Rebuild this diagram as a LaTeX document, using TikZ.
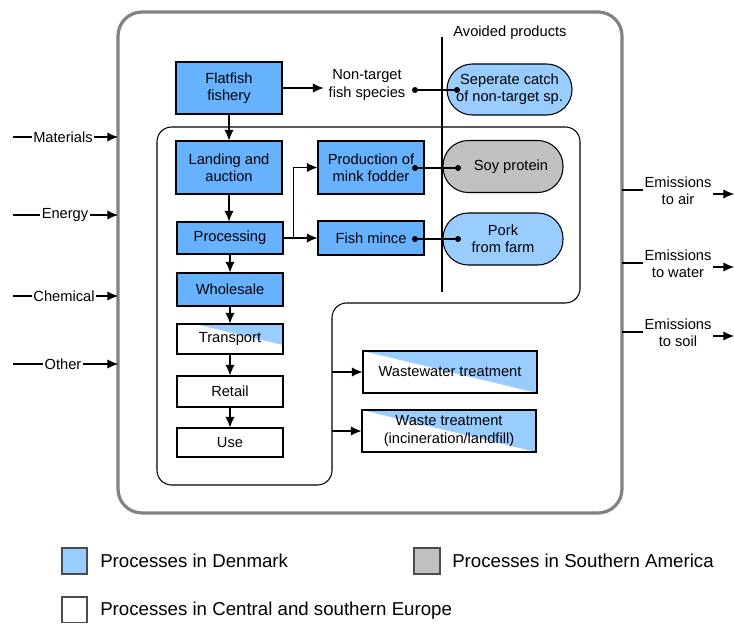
\documentclass[tikz,border=0pt]{standalone}
\usepackage{fontspec}
\setmainfont{Liberation Sans}
\usetikzlibrary{arrows.meta,calc}
\definecolor{procblue}{RGB}{102,178,255}
\definecolor{lblue}{RGB}{153,204,255}
\definecolor{sgray}{RGB}{192,192,192}
\definecolor{frame}{RGB}{130,130,130}
\tikzset{
  txt/.style={font=\fontsize{11}{13}\selectfont, align=center, inner sep=1pt},
  box/.style={txt, draw, line width=0.8pt, inner sep=0pt, minimum width=79.5pt},
  pbox/.style={box, fill=procblue},
  wbox/.style={box, fill=white},
  stad/.style={txt, draw, line width=0.8pt, inner sep=0pt, rounded corners=19pt, minimum width=90pt, minimum height=39pt},
  arr/.style={line width=0.8pt, -{Latex[length=8pt,width=7pt]}},
  ln/.style={line width=0.8pt},
  dot/.style={circle, fill=black, inner sep=0pt, minimum size=4.5pt},
  legtxt/.style={font=\fontsize{14}{16}\selectfont, anchor=west, inner sep=0pt},
  legbox/.style={draw=black!70, line width=0.8pt}
}
\begin{document}
\begin{tikzpicture}[x=0.75pt,y=-0.75pt]
\useasboundingbox (0,0) rectangle (734,624);
% outer frame
\draw[frame, line width=2.4pt, rounded corners=18pt] (118,12) rectangle (622,513);
% inner region
\draw[ln, rounded corners=11pt] (157,127) -- (580,127) -- (580,303) -- (332,303) -- (332,485) -- (157,485) -- cycle;
% separator
\coordinate (sepT) at (442,37);
\coordinate (sepB) at (442,292);
\draw[ln] (sepT) -- (sepB);
\node[txt] (avoid) at (510,33) {Avoided products};

% nodes
\node[pbox, minimum height=39pt] (ff) at (229,88) {Flatfish\\fishery};
\node[txt] (nt) at (367,85) {Non-target\\fish species};
\node[stad, fill=lblue, minimum width=93.75pt, minimum height=38.25pt] (sep) at (509.5,89.5) {Seperate catch\\of non-target sp.};
\node[pbox, minimum height=39.75pt] (land) at (229,167.5) {Landing and\\auction};
\node[pbox, minimum height=24pt] (proc) at (230,238) {Processing};
\node[pbox, minimum height=39.75pt] (mink) at (371,167.5) {Production of\\mink fodder};
\node[pbox, minimum height=25.5pt] (mince) at (371,238) {Fish mince};
\node[stad, fill=sgray] (soy) at (503,166.5) {\hspace*{12pt}Soy protein};
\node[stad, fill=lblue] (pork) at (503,239) {Pork\\from farm};
\node[pbox, minimum height=24.75pt] (whole) at (230,289.5) {Wholesale};
\node[wbox, minimum height=22.5pt,
  path picture={\fill[lblue] ([xshift=13.5pt]path picture bounding box.north west) -- (path picture bounding box.north east) -- ([yshift=-15.75pt]path picture bounding box.north east) -- cycle;}] (trans) at (230,339) {Transport};
\node[wbox, minimum height=23.25pt] (retail) at (230,391.5) {Retail};
\node[wbox, minimum height=21.75pt] (use) at (230,442.5) {Use};
\node[wbox, minimum width=130.5pt, minimum height=31.5pt,
  path picture={\fill[lblue] (path picture bounding box.north west) -- (path picture bounding box.north east) -- (path picture bounding box.south east) -- cycle;}] (ww) at (450,372) {Wastewater treatment};
\node[wbox, minimum width=130.5pt, minimum height=31.5pt,
  path picture={\fill[lblue] (path picture bounding box.north west) -- (path picture bounding box.north east) -- (path picture bounding box.south east) -- cycle;}] (waste) at (449,431) {Waste treatment\\(incineration/landfill)};

% dots for avoided products
\node[dot] (d1a) at (415,90) {};
\node[dot] (d1b) at (457,90) {};
\node[dot] (d2a) at (415,168) {};
\node[dot] (d2b) at (458,168) {};
\node[dot] (d3a) at (415,239) {};
\node[dot] (d3b) at (458,239) {};
\draw[ln] (d1a) -- (d1b);
\draw[ln] (d2a) -- (d2b);
\draw[ln] (d3a) -- (d3b);

% flow arrows
\draw[arr] (ff.east) -- ($(ff.east)+(41,0)$) coordinate (ntin);
\draw[arr] (ff.south) -- (land.north);
\draw[arr] (land.south) -- (land.south |- proc.north);
\draw[arr] (proc.east) -- ++(10,0) |- (mink.west);
\draw[arr] (proc.east) -- (proc.east -| mince.west);
\draw[arr] (proc.south) -- (whole.north);
\draw[arr] (whole.south) -- (trans.north);
\draw[arr] (trans.south) -- (retail.north);
\draw[arr] (retail.south) -- (use.north);
\coordinate (wwsrc) at (332,372);
\coordinate (wastesrc) at (332,431);
\draw[arr] (wwsrc) -- (wwsrc -| ww.west);
\draw[arr] (wastesrc) -- (wastesrc -| waste.west);

% inputs
\foreach \nm/\lab/\yy/\xx in {mat/Materials/137/63, ene/Energy/215/65, che/Chemical/296/64, oth/Other/364/63}{
  \node[txt] (\nm) at (\xx,\yy) {\lab};
  \coordinate (\nm0) at (13,\yy);
  \coordinate (\nm1) at (118,\yy);
  \draw[ln] (\nm0) -- (\nm.west);
  \draw[arr] (\nm.east) -- (\nm1);
}

% outputs
\foreach \nm/\lab/\yy in {air/air/190, wat/water/263, soil/soil/332}{
  \node[txt] (\nm) at (678,\yy+1) {Emissions\\to \lab};
  \coordinate (\nm0) at (622,\yy);
  \coordinate (\nm1) at (734,\yy+4);
  \draw[ln] (\nm0) -- (\nm0 -| \nm.west);
  \draw[arr] (\nm1 -| \nm.east) -- (\nm1);
}

% legend
\draw[legbox, fill=lblue] (62,548) rectangle (87,574);
\node[legtxt] (l1) at (100,561) {Processes in Denmark};
\draw[legbox, fill=sgray] (414,548) rectangle (440,574);
\node[legtxt] (l2) at (452,561) {Processes in Southern America};
\draw[legbox, fill=white] (62,597) rectangle (87,622.5);
\node[legtxt] (l3) at (100,611) {Processes in Central and southern Europe};
\end{tikzpicture}
\end{document}
